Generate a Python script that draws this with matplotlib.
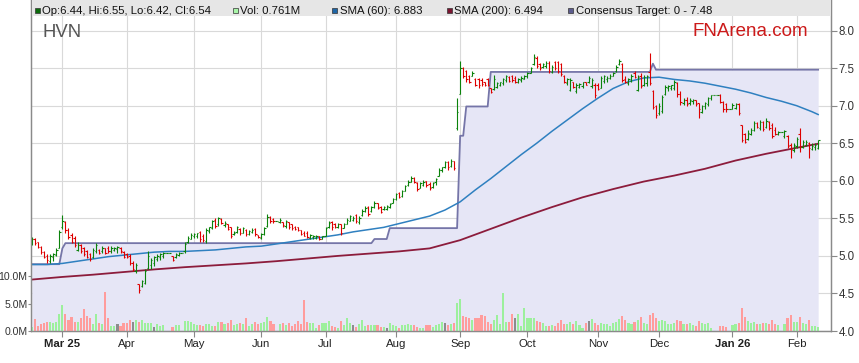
import numpy as np
import pandas as pd
import matplotlib
matplotlib.use("Agg")
import matplotlib.pyplot as plt
from matplotlib.collections import LineCollection
from matplotlib.patches import Rectangle

plt.rcParams["font.family"] = ["Liberation Sans", "DejaVu Sans"]

# every weekday gets a slot; ASX holidays show up as flat bars with no volume
days = pd.bdate_range("2025-02-17", "2026-02-11")

opens = [
    5.18, 5.23, 5.18, 5.12, 5.05, 5.00, 4.93, 4.98, 5.01, 5.10,
    5.38, 5.45, 5.35, 5.28, 5.24, 5.08, 5.14, 5.10, 5.06, 5.02, 4.98, 5.06, 5.08, 5.06, 5.10, 5.11, 5.06, 5.08, 5.09, 5.11, 5.05,
    5.03, 5.00, 4.90, 4.80, 4.62, 4.60, 4.64, 4.84, 4.88, 4.90, 4.96, 4.99, 5.00, 5.04, 5.04, 5.00, 4.98, 5.01, 5.04, 5.06, 5.18, 5.23,
    5.26, 5.27, 5.32, 5.26, 5.20, 5.33, 5.37, 5.48, 5.42, 5.49, 5.41, 5.42, 5.38, 5.29, 5.32, 5.36, 5.31, 5.35, 5.29, 5.32, 5.36, 5.28,
    5.24, 5.29, 5.40, 5.52, 5.49, 5.46, 5.45, 5.45, 5.40, 5.45, 5.42, 5.39, 5.38, 5.34, 5.31, 5.31, 5.24, 5.25, 5.24, 5.26, 5.23,
    5.27, 5.38, 5.45, 5.42, 5.38, 5.42, 5.37, 5.43, 5.47, 5.48, 5.54, 5.45, 5.54, 5.60, 5.65, 5.60, 5.65, 5.70, 5.65, 5.62, 5.63, 5.65, 5.71,
    5.76, 5.84, 5.80, 5.87, 5.94, 5.99, 6.04, 5.97, 5.91, 5.95, 6.00, 5.96, 5.92, 5.98, 6.07, 6.14, 6.18, 6.25, 6.20, 6.26, 6.70,
    7.16, 7.50, 7.46, 7.40, 7.40, 7.36, 7.35, 7.34, 7.31, 7.35, 7.23, 7.22, 7.25, 7.27, 7.30, 7.34, 7.38, 7.39, 7.37, 7.31, 7.34, 7.36,
    7.39, 7.44, 7.55, 7.64, 7.55, 7.51, 7.53, 7.57, 7.45, 7.58, 7.58, 7.55, 7.40, 7.30, 7.21, 7.31, 7.20, 7.25, 7.26, 7.31, 7.31, 7.26, 7.28,
    7.28, 7.24, 7.33, 7.35, 7.37, 7.40, 7.46, 7.55, 7.56, 7.36, 7.30, 7.33, 7.44, 7.21, 7.40, 7.27, 7.30, 7.45, 7.20, 7.00,
    6.90, 6.93, 7.15, 7.23, 7.24, 7.24, 7.30, 7.15, 7.03, 7.08, 7.03, 7.06, 7.07, 7.03, 6.92, 6.99, 7.02, 7.10, 7.14, 7.14, 7.14, 7.05, 7.02,
    6.96, 6.96, 6.97, 7.02, 6.74, 6.62, 6.56, 6.63, 6.68, 6.77, 6.70, 6.78, 6.72, 6.78, 6.75, 6.68, 6.62, 6.65, 6.60, 6.60, 6.48, 6.41,
    6.46, 6.62, 6.45, 6.48, 6.50, 6.43, 6.45, 6.44,
]
highs = [
    5.25, 5.24, 5.19, 5.13, 5.06, 5.03, 5.02, 5.04, 5.10, 5.35,
    5.54, 5.46, 5.37, 5.30, 5.26, 5.18, 5.16, 5.12, 5.08, 5.04, 5.10, 5.17, 5.09, 5.13, 5.11, 5.13, 5.13, 5.12, 5.13, 5.12, 5.06,
    5.04, 5.02, 4.93, 4.91, 4.62, 4.68, 4.82, 5.06, 4.97, 5.00, 5.02, 5.04, 5.05, 5.04, 5.04, 5.00, 5.04, 5.05, 5.04, 5.19, 5.26, 5.31,
    5.31, 5.31, 5.33, 5.29, 5.37, 5.39, 5.48, 5.50, 5.52, 5.50, 5.46, 5.43, 5.39, 5.33, 5.40, 5.37, 5.39, 5.36, 5.35, 5.37, 5.37, 5.28,
    5.30, 5.39, 5.56, 5.53, 5.50, 5.46, 5.50, 5.45, 5.48, 5.45, 5.43, 5.40, 5.39, 5.35, 5.33, 5.33, 5.29, 5.28, 5.28, 5.27, 5.27,
    5.39, 5.46, 5.47, 5.44, 5.44, 5.43, 5.44, 5.50, 5.55, 5.53, 5.56, 5.53, 5.62, 5.66, 5.66, 5.67, 5.73, 5.70, 5.66, 5.67, 5.68, 5.70, 5.77,
    5.84, 5.85, 5.88, 5.95, 6.01, 6.06, 6.05, 5.99, 5.99, 6.01, 6.00, 5.98, 5.99, 6.04, 6.17, 6.19, 6.27, 6.26, 6.29, 6.26, 7.10,
    7.59, 7.51, 7.48, 7.41, 7.46, 7.37, 7.37, 7.37, 7.32, 7.37, 7.23, 7.41, 7.32, 7.32, 7.37, 7.41, 7.39, 7.41, 7.39, 7.37, 7.39, 7.41,
    7.45, 7.52, 7.69, 7.66, 7.57, 7.57, 7.59, 7.59, 7.54, 7.59, 7.59, 7.57, 7.41, 7.37, 7.37, 7.32, 7.30, 7.30, 7.32, 7.32, 7.39, 7.37, 7.30,
    7.30, 7.39, 7.41, 7.39, 7.42, 7.45, 7.54, 7.62, 7.57, 7.39, 7.37, 7.42, 7.46, 7.41, 7.43, 7.41, 7.41, 7.70, 7.21, 7.01,
    7.03, 7.14, 7.28, 7.28, 7.28, 7.34, 7.32, 7.19, 7.10, 7.11, 7.10, 7.09, 7.07, 7.03, 7.01, 7.05, 7.12, 7.14, 7.14, 7.14, 7.15, 7.06, 7.03,
    6.96, 7.03, 7.03, 7.03, 6.75, 6.64, 6.68, 6.70, 6.79, 6.78, 6.81, 6.79, 6.83, 6.79, 6.77, 6.72, 6.66, 6.65, 6.68, 6.61, 6.50, 6.50,
    6.59, 6.70, 6.55, 6.55, 6.52, 6.50, 6.50, 6.55,
]
lows = [
    5.15, 5.15, 5.10, 5.03, 4.97, 4.91, 4.91, 4.93, 5.00, 5.10,
    5.36, 5.31, 5.22, 5.17, 5.12, 5.06, 5.04, 5.00, 4.97, 4.93, 4.97, 5.04, 5.02, 5.04, 5.02, 5.04, 5.04, 5.07, 5.04, 5.04, 4.97,
    4.97, 4.88, 4.80, 4.77, 4.51, 4.59, 4.62, 4.82, 4.82, 4.86, 4.93, 4.95, 4.97, 5.04, 5.04, 4.93, 4.97, 5.00, 5.04, 5.04, 5.17, 5.22,
    5.24, 5.24, 5.19, 5.19, 5.17, 5.31, 5.36, 5.37, 5.40, 5.42, 5.39, 5.34, 5.24, 5.28, 5.31, 5.28, 5.30, 5.27, 5.28, 5.30, 5.26, 5.24,
    5.22, 5.28, 5.39, 5.44, 5.44, 5.46, 5.44, 5.39, 5.37, 5.36, 5.35, 5.35, 5.33, 5.28, 5.26, 5.24, 5.23, 5.23, 5.22, 5.21, 5.22,
    5.26, 5.37, 5.35, 5.37, 5.37, 5.28, 5.37, 5.42, 5.46, 5.46, 5.44, 5.42, 5.53, 5.59, 5.53, 5.59, 5.64, 5.62, 5.57, 5.61, 5.61, 5.64, 5.70,
    5.75, 5.77, 5.79, 5.86, 5.93, 5.99, 5.97, 5.86, 5.90, 5.93, 5.92, 5.88, 5.90, 5.95, 6.06, 6.12, 6.17, 6.14, 6.19, 6.14, 6.68,
    7.15, 7.37, 7.32, 7.30, 7.39, 7.26, 7.23, 7.26, 7.26, 7.26, 7.17, 7.21, 7.23, 7.26, 7.28, 7.32, 7.32, 7.32, 7.30, 7.30, 7.32, 7.35,
    7.37, 7.43, 7.54, 7.50, 7.48, 7.50, 7.50, 7.43, 7.43, 7.48, 7.43, 7.39, 7.30, 7.28, 7.19, 7.23, 7.17, 7.23, 7.23, 7.27, 7.30, 7.23, 7.10,
    7.21, 7.23, 7.30, 7.32, 7.35, 7.39, 7.45, 7.54, 7.32, 7.30, 7.28, 7.32, 7.37, 7.19, 7.23, 7.26, 7.26, 7.28, 6.95, 6.83,
    6.88, 6.90, 7.14, 7.19, 7.21, 7.21, 7.12, 7.01, 7.01, 7.00, 7.01, 7.02, 7.00, 6.83, 6.90, 6.95, 6.99, 7.08, 7.14, 7.14, 7.03, 6.92, 6.92,
    6.96, 6.95, 6.95, 6.88, 6.52, 6.50, 6.55, 6.61, 6.66, 6.70, 6.68, 6.66, 6.70, 6.68, 6.57, 6.61, 6.61, 6.65, 6.57, 6.44, 6.30, 6.39,
    6.44, 6.39, 6.44, 6.46, 6.30, 6.41, 6.41, 6.42,
]
closes = [
    5.22, 5.17, 5.12, 5.05, 4.99, 4.94, 5.00, 5.02, 5.08, 5.32,
    5.46, 5.34, 5.25, 5.19, 5.14, 5.15, 5.07, 5.03, 4.99, 4.96, 5.08, 5.14, 5.04, 5.11, 5.04, 5.06, 5.11, 5.11, 5.12, 5.06, 4.99,
    4.98, 4.91, 4.83, 4.88, 4.55, 4.66, 4.80, 5.00, 4.95, 4.98, 5.00, 5.02, 5.04, 5.04, 5.04, 4.95, 5.03, 5.04, 5.04, 5.16, 5.24, 5.28,
    5.29, 5.30, 5.22, 5.21, 5.34, 5.38, 5.46, 5.40, 5.50, 5.44, 5.44, 5.36, 5.27, 5.31, 5.38, 5.30, 5.37, 5.29, 5.33, 5.35, 5.29, 5.25,
    5.29, 5.37, 5.52, 5.46, 5.46, 5.46, 5.48, 5.41, 5.46, 5.38, 5.37, 5.36, 5.34, 5.29, 5.27, 5.25, 5.28, 5.27, 5.27, 5.22, 5.26,
    5.37, 5.44, 5.38, 5.39, 5.42, 5.31, 5.42, 5.48, 5.53, 5.51, 5.46, 5.51, 5.60, 5.64, 5.56, 5.65, 5.71, 5.64, 5.59, 5.65, 5.66, 5.69, 5.76,
    5.82, 5.79, 5.86, 5.93, 5.99, 6.04, 5.99, 5.89, 5.97, 5.99, 5.94, 5.91, 5.97, 6.03, 6.15, 6.18, 6.25, 6.18, 6.27, 6.17, 6.92,
    7.50, 7.39, 7.36, 7.32, 7.44, 7.28, 7.27, 7.29, 7.27, 7.28, 7.18, 7.36, 7.30, 7.31, 7.35, 7.39, 7.33, 7.34, 7.32, 7.35, 7.37, 7.40,
    7.43, 7.50, 7.65, 7.53, 7.50, 7.55, 7.57, 7.46, 7.52, 7.50, 7.46, 7.42, 7.32, 7.35, 7.34, 7.25, 7.27, 7.29, 7.31, 7.28, 7.37, 7.34, 7.14,
    7.22, 7.37, 7.39, 7.37, 7.40, 7.44, 7.52, 7.60, 7.34, 7.31, 7.35, 7.40, 7.38, 7.38, 7.26, 7.38, 7.39, 7.30, 6.98, 6.88,
    7.00, 7.12, 7.25, 7.26, 7.27, 7.32, 7.15, 7.05, 7.08, 7.02, 7.08, 7.08, 7.02, 6.95, 6.99, 7.03, 7.10, 7.14, 7.14, 7.14, 7.05, 6.95, 6.96,
    6.96, 7.01, 7.02, 6.90, 6.55, 6.52, 6.64, 6.68, 6.77, 6.72, 6.78, 6.69, 6.80, 6.70, 6.60, 6.63, 6.65, 6.65, 6.66, 6.47, 6.42, 6.48,
    6.56, 6.45, 6.52, 6.52, 6.44, 6.47, 6.48, 6.54,
]
volume_m = [
    0.8, 2.2, 1.0, 1.3, 1.5, 1.6, 1.6, 1.5, 1.7, 3.2,
    4.8, 3.2, 2.0, 2.5, 1.7, 1.6, 2.3, 4.0, 2.7, 2.3, 1.3, 3.2, 1.5, 1.3, 7.2, 2.3, 0.9, 0.9, 1.3, 1.0, 1.4,
    1.5, 2.1, 1.7, 2.0, 1.7, 2.0, 1.5, 1.5, 1.4, 0.8, 1.3, 0.9, 1.1, 0, 0, 0.8, 1.1, 1.1, 0, 1.9, 1.9, 1.7,
    1.3, 1.1, 1.1, 1.0, 1.2, 1.3, 1.0, 0.9, 1.7, 1.6, 1.2, 1.4, 2.0, 1.1, 1.3, 1.5, 1.2, 2.4, 1.0, 1.3, 1.6, 1.2,
    1.4, 1.6, 2.6, 1.8, 1.3, 0, 1.2, 1.5, 1.1, 1.4, 1.0, 1.2, 1.9, 1.3, 5.7, 1.7, 1.5, 1.5, 0.5, 1.1, 1.5,
    1.4, 1.8, 1.0, 0.8, 0.6, 1.9, 1.1, 2.3, 1.5, 1.1, 0.8, 1.3, 2.1, 0.9, 1.1, 1.1, 1.1, 1.1, 0.7, 0.7, 0.5, 1.4, 1.1,
    1.0, 0.5, 1.1, 1.1, 1.3, 1.1, 1.1, 0.8, 0.6, 0.6, 1.1, 1.1, 0.8, 1.1, 1.2, 1.6, 1.4, 1.1, 1.2, 1.4, 5.2,
    5.9, 2.8, 2.5, 2.3, 2.0, 2.3, 2.3, 2.9, 2.8, 1.6, 1.3, 2.0, 2.9, 1.3, 6.9, 1.6, 1.7, 3.1, 2.3, 3.1, 0.9, 4.3,
    2.3, 2.3, 2.3, 1.8, 1.6, 1.5, 1.0, 1.0, 1.1, 1.0, 1.4, 2.0, 1.2, 1.3, 1.7, 1.2, 1.9, 1.1, 0.6, 1.4, 1.8, 2.2, 1.4,
    1.1, 1.5, 1.3, 1.2, 1.0, 1.4, 1.6, 2.2, 2.8, 2.0, 1.4, 1.2, 1.6, 2.1, 2.6, 1.5, 1.3, 2.9, 3.3, 2.4,
    1.9, 2.1, 1.8, 1.3, 1.2, 1.5, 2.0, 1.8, 1.2, 1.3, 1.4, 1.1, 1.0, 1.9, 1.4, 1.2, 1.5, 0.6, 0, 0, 0.9, 1.0, 0.8,
    0, 1.1, 1.2, 1.5, 4.2, 2.5, 1.8, 1.4, 1.6, 1.2, 1.3, 1.4, 1.5, 1.2, 2.0, 1.3, 1.1, 0, 1.2, 2.3, 2.9, 1.7,
    1.6, 2.6, 1.4, 1.3, 2.1, 1.0, 0.9, 0.761,
]
# sessions whose volume bar is drawn grey
grey_days = ["2025-03-27", "2025-04-03", "2025-04-14", "2025-07-14", "2025-07-29",
             "2025-08-25", "2025-09-25", "2025-10-29"]

# moving averages every 5 / 10 weekdays
sma60 = [4.885, 4.885, 4.90, 4.93, 4.96, 4.99, 5.01, 5.03, 5.05, 5.06, 5.06, 5.07, 5.08,
         5.10, 5.12, 5.13, 5.16, 5.19, 5.22, 5.25, 5.28, 5.32, 5.35, 5.38, 5.43, 5.48,
         5.53, 5.61, 5.72, 5.88, 6.03, 6.19, 6.35, 6.50, 6.66, 6.81, 6.96, 7.10, 7.23,
         7.32, 7.37, 7.38, 7.35, 7.33, 7.30, 7.26, 7.22, 7.17, 7.11, 7.06, 7.00, 6.92, 6.883]
sma200 = [4.685, 4.72, 4.75, 4.785, 4.82, 4.85, 4.875, 4.90, 4.93, 4.965, 5.00, 5.03, 5.06,
          5.10, 5.21, 5.36, 5.51, 5.65, 5.78, 5.89, 5.99, 6.07, 6.16, 6.27, 6.36, 6.44, 6.494]

target_dates = ["2025-02-17", "2025-02-28", "2025-03-03", "2025-03-04", "2025-07-22", "2025-07-23",
                "2025-07-29", "2025-07-30", "2025-08-29", "2025-09-01", "2025-09-02", "2025-09-03",
                "2025-09-12", "2025-09-15", "2025-11-26", "2025-11-27", "2025-11-28", "2026-02-11"]
target_vals = [4.89, 4.89, 5.10, 5.17, 5.17, 5.225, 5.225, 5.37, 5.37, 6.60, 6.60, 6.99,
               6.99, 7.45, 7.45, 7.56, 7.48, 7.48]

month_labels = ["Mar 25", "Apr", "May", "Jun", "Jul", "Aug", "Sep", "Oct", "Nov", "Dec", "Jan 26", "Feb"]

n = len(days)
for arr in (opens, highs, lows, closes, volume_m):
    assert len(arr) == n, len(arr)

x = np.arange(n)
o, hi, lo, c = (np.array(a) for a in (opens, highs, lows, closes))
vol = np.array(volume_m)
up = c >= o

W, H = 859, 363
fig = plt.figure(figsize=(W / 100, H / 100), dpi=100)
ax = fig.add_axes([31 / W, 32 / H, 800 / W, 331 / H])
axv = ax.twinx()

# consensus target with shaded area
tx = days.get_indexer(pd.to_datetime(target_dates))
ax.fill_between(tx, target_vals, 4.0, color="#e6e6f6", lw=0, zorder=1)
ax.plot(tx, target_vals, color="#7575a8", lw=1.3, zorder=2)

ax.plot(x[::5].tolist() + [x[-1]], sma60, color="#2f80c0", lw=1.1, zorder=2)
ax.plot(x[::10].tolist() + [x[-1]], sma200, color="#8c1c3c", lw=1.3, zorder=2)

# OHLC bars
tk = 0.45
segs, cols = [], []
for xi, oi, hh, ll, ci, u in zip(x, o, hi, lo, c, up):
    col = "#0b820b" if u else "#dd0000"
    segs += [[(xi, ll), (xi, hh)], [(xi - tk, oi), (xi, oi)], [(xi, ci), (xi + tk, ci)]]
    cols += [col] * 3
ax.add_collection(LineCollection(segs, colors=cols, linewidths=0.8, zorder=3))

vcol = np.where(up, "#9cf09c", "#ff9c9c").astype(object)
vcol[days.get_indexer(pd.to_datetime(grey_days))] = "#8c8c8c"
axv.bar(x, vol, width=0.7, color=list(vcol), zorder=2)

# axes setup
ax.set_xlim(-0.25, 261.2)
ax.set_ylim(4.0, 8.408)
axv.set_ylim(0, 60.6)

ax.yaxis.tick_right()
ax.set_yticks(np.arange(4.0, 8.01, 0.5))
ax.set_yticklabels([f"{v:.1f}" for v in np.arange(4.0, 8.01, 0.5)])
ax.tick_params(axis="y", direction="out", length=4, color="#888888", labelsize=8.3,
               labelcolor="#333333", pad=1.5, right=True, left=False)

axv.yaxis.tick_left()
axv.set_yticks([0, 5, 10])
axv.set_yticklabels(["0.0M", "5.0M", "10.0M"])
axv.tick_params(axis="y", direction="out", length=2, color="#888888", labelsize=7.6,
                labelcolor="#333333", pad=0.4)

traded = pd.Series(x, index=days)[vol > 0]
firsts = traded.groupby([traded.index.year, traded.index.month]).first().values[1:]
ax.set_xticks(firsts)
ax.set_xticklabels(month_labels)
for lab in ax.get_xticklabels():
    if " " in lab.get_text():
        lab.set_fontweight("bold")
ax.tick_params(axis="x", direction="out", length=4, color="#888888", labelsize=8.2,
               labelcolor="#222222", pad=2)
axv.tick_params(axis="x", bottom=False, labelbottom=False)

ax.set_axisbelow(True)
ax.grid(True, color="#d9d9d9", lw=0.8)

for a in (ax, axv):
    a.spines["top"].set_visible(False)
    for s in ("left", "right", "bottom"):
        a.spines[s].set_color("#8a8a8a")
        a.spines[s].set_linewidth(0.9)

fig.text(42 / W, 1 - 24 / H, "HVN", fontsize=13.3, color="#555555", va="top")
fig.text(692 / W, 1 - 23 / H, "FNArena.com", fontsize=13.5, color="#cc1a1a", va="top")

# legend strip
band = fig.add_axes([32 / W, 1 - 16 / H, 799 / W, 16 / H])
band.set_facecolor("#e6e6e6")
band.set_xlim(32, 831)
band.set_ylim(16, 0)
band.set_xticks([])
band.set_yticks([])
for s in band.spines.values():
    s.set_visible(False)

legend_items = [
    (35, "#0b6b0b", "Op:6.44, Hi:6.55, Lo:6.42, Cl:6.54"),
    (233, "#a8f5a8", "Vol: 0.761M"),
    (332, "#1f66a6", "SMA (60): 6.883"),
    (447, "#7a1530", "SMA (200): 6.494"),
    (568, "#5c5c8e", "Consensus Target: 0 - 7.48"),
]
for px, col, txt in legend_items:
    band.add_patch(Rectangle((px, 7.5), 5, 5.6, facecolor=col, edgecolor="#333333", lw=0.5))
    band.text(px + 7.5, 10.6, txt, fontsize=8.2, color="#111111", va="center")

fig.savefig("out.png", dpi=100)
